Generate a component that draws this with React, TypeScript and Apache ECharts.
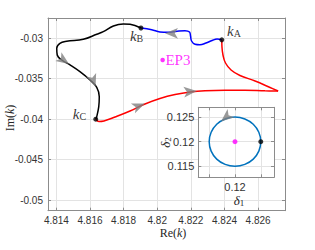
import React, { useEffect, useRef } from "react";
import * as echarts from "echarts";

// ---- tick values / labels ----
const xTicks = [4.814, 4.816, 4.818, 4.82, 4.822, 4.824, 4.826];
const xTickLabels = ["4.814", "4.816", "4.818", "4.82", "4.822", "4.824", "4.826"];
const yTicks = [-0.05, -0.045, -0.04, -0.035, -0.03];
const yTickLabels = ["-0.05", "-0.045", "-0.04", "-0.035", "-0.03"];
const inXTicks = [0.115, 0.12, 0.125];
const inXLabelTicks = [0.12];
const inXTickLabels = ["0.12"];
const inYTicks = [0.115, 0.12, 0.125];
const inYTickLabels = ["0.115", "0.12", "0.125"];

// ---- main curves (Re k, Im k) ----
const blackPath = [
  [4.81903, -0.02874], [4.81838, -0.02828], [4.81798, -0.02824], [4.81739, -0.02849],
  [4.81679, -0.02919], [4.8164, -0.02951], [4.8156, -0.03013], [4.81461, -0.03038],
  [4.81421, -0.03062], [4.81402, -0.03124], [4.81405, -0.03207], [4.81432, -0.03269],
  [4.81481, -0.0333], [4.8154, -0.03413], [4.816, -0.03516], [4.8164, -0.03606],
  [4.81655, -0.03722], [4.81652, -0.03845], [4.8164, -0.03969], [4.81634, -0.04],
];
// red: kC -> turning point (lower branch), then turning point -> kA (upper branch)
const redLower = [
  [4.81634, -0.04], [4.81653, -0.04028], [4.81683, -0.04022], [4.81749, -0.03973],
  [4.81838, -0.03899], [4.81927, -0.03812], [4.82016, -0.03744], [4.82106, -0.03695],
  [4.82195, -0.03664], [4.82284, -0.03648], [4.82403, -0.03642], [4.82522, -0.03642],
  [4.82641, -0.03649], [4.82719, -0.03652],
];
const redUpper = [
  [4.82719, -0.03652], [4.82671, -0.03608], [4.82582, -0.03528],
  [4.82492, -0.0346], [4.82439, -0.03392], [4.82406, -0.03306], [4.82391, -0.03207],
  [4.82385, -0.03108], [4.82384, -0.0302],
];
const bluePath = [
  [4.82384, -0.0302], [4.82356, -0.03009], [4.82326, -0.03028], [4.8229, -0.03059],
  [4.82254, -0.03081], [4.82225, -0.03075], [4.82204, -0.03034], [4.82198, -0.02972],
  [4.82192, -0.02923], [4.82165, -0.02907], [4.82118, -0.02914], [4.82064, -0.02927],
  [4.82016, -0.02923], [4.81967, -0.02894], [4.81903, -0.02874],
];
// arrows: x, y, rotation (deg)
const mainArrows = [
  [4.81475, -0.03318, -125],
  [4.81633, -0.03602, -160],
  [4.81927, -0.03806, -68],
  [4.82235, -0.03652, -85],
  [4.82046, -0.02939, 90],
];
const keyNames = ["A", "B", "C"];
const keyPoints = [
  [4.82384, -0.0302],
  [4.81903, -0.02874],
  [4.81634, -0.04],
];
const ep3Point = [4.82032, -0.03269];

// ---- inset (delta1, delta2) ----
const inCircle = [
  [0.125, 0.12], [0.12462, 0.12191], [0.12354, 0.12354], [0.12191, 0.12462],
  [0.12, 0.125], [0.11809, 0.12462], [0.11646, 0.12354], [0.11538, 0.12191],
  [0.115, 0.12], [0.11538, 0.11809], [0.11646, 0.11646], [0.11809, 0.11538],
  [0.12, 0.115], [0.12191, 0.11538], [0.12354, 0.11646], [0.12462, 0.11809],
  [0.125, 0.12],
];
const inCenter = [0.12, 0.12];
const inStart = [0.125, 0.12];
const inArrow = [0.1173, 0.1241, 130];

const frame = "#8c8c8c";
const gridCol = "#e3e3e3";
const tickText = "#333333";
const serif = "Liberation Serif";
const sans = "Liberation Sans";
const arrowSize = [8, 13];

function lookup(ticks: number[], labels: string[]) {
  return (v: number) => {
    for (let i = 0; i < ticks.length; i++) {
      if (Math.abs(ticks[i] - v) < 1e-9) return labels[i];
    }
    return "";
  };
}

function valAxis(o: any) {
  const {
    gridIndex, position, min, max, ticks, labelTicks, labels, showLabel, split, fontSize, margin, z,
  } = o;
  return {
    type: "value",
    gridIndex,
    position,
    min,
    max,
    z,
    axisLine: { show: true, onZero: false, lineStyle: { color: frame, width: 1 } },
    axisTick: { show: true, inside: true, length: 3, customValues: ticks, lineStyle: { color: frame } },
    axisLabel: showLabel
      ? {
          show: true,
          customValues: labelTicks,
          formatter: lookup(labelTicks, labels),
          color: tickText,
          fontSize,
          fontFamily: sans,
          margin,
        }
      : { show: false },
    splitLine: split ? { show: true, lineStyle: { color: gridCol, width: 1 } } : { show: false },
  };
}

const kRich = {
  k: { fontFamily: serif, fontStyle: "italic", fontSize: 15, lineHeight: 16, color: "#000" },
  s: { fontFamily: serif, fontSize: 10, lineHeight: 9, verticalAlign: "bottom", color: "#000" },
};
const keyOffsets = [
  [2.8, -9.3],
  [-13.5, 7.5],
  [-25.5, -5.5],
];

function curve(data: number[][], color: string, smooth: number) {
  return {
    type: "line", xAxisIndex: 0, yAxisIndex: 0, data, showSymbol: false, smooth,
    lineStyle: { color, width: 1.5 }, z: 2, silent: true,
  };
}

export default function App() {
  const ref = useRef<HTMLDivElement>(null);
  useEffect(() => {
    if (!ref.current) return;
    const chart = echarts.init(ref.current, undefined, { renderer: "svg" });
    const mainXMin = 4.8135, mainXMax = 4.8276, mainYMin = -0.0513, mainYMax = -0.0275;
    const inXMin = 0.11289, inXMax = 0.12756, inYMin = 0.11276, inYMax = 0.12699;
    const option: any = {
      animation: false,
      grid: [
        { left: 48, top: 18, width: 237, height: 192.7, show: false },
        {
          left: 198.3, top: 107.3, width: 75.7, height: 70, show: true,
          backgroundColor: "#ffffff", borderWidth: 0, z: 3,
        },
      ],
      xAxis: [
        valAxis({ gridIndex: 0, position: "bottom", min: mainXMin, max: mainXMax, ticks: xTicks, labelTicks: xTicks, labels: xTickLabels, showLabel: true, split: true, fontSize: 10, margin: 5, z: 0 }),
        valAxis({ gridIndex: 0, position: "top", min: mainXMin, max: mainXMax, ticks: xTicks, showLabel: false, split: false, z: 0 }),
        valAxis({ gridIndex: 1, position: "bottom", min: inXMin, max: inXMax, ticks: inXTicks, labelTicks: inXLabelTicks, labels: inXTickLabels, showLabel: true, split: true, fontSize: 11, margin: 4.5, z: 4 }),
        valAxis({ gridIndex: 1, position: "top", min: inXMin, max: inXMax, ticks: inXTicks, showLabel: false, split: false, z: 4 }),
      ],
      yAxis: [
        valAxis({ gridIndex: 0, position: "left", min: mainYMin, max: mainYMax, ticks: yTicks, labelTicks: yTicks, labels: yTickLabels, showLabel: true, split: true, fontSize: 10, margin: 5, z: 0 }),
        valAxis({ gridIndex: 0, position: "right", min: mainYMin, max: mainYMax, ticks: yTicks, showLabel: false, split: false, z: 0 }),
        valAxis({ gridIndex: 1, position: "left", min: inYMin, max: inYMax, ticks: inYTicks, labelTicks: inYTicks, labels: inYTickLabels, showLabel: true, split: true, fontSize: 11, margin: 4, z: 4 }),
        valAxis({ gridIndex: 1, position: "right", min: inYMin, max: inYMax, ticks: inYTicks, showLabel: false, split: false, z: 4 }),
      ],
      series: [
        curve(blackPath, "#000000", 0.4),
        curve(redLower, "#ff0000", 0.4),
        curve(redUpper, "#ff0000", 0.4),
        curve(bluePath, "#0000ff", 0.4),
        {
          type: "scatter", xAxisIndex: 0, yAxisIndex: 0, symbol: "arrow", symbolSize: arrowSize,
          itemStyle: { color: "#808080" }, z: 3, silent: true,
          data: mainArrows.map((a) => ({ value: [a[0], a[1]], symbolRotate: a[2] })),
        },
        {
          type: "scatter", xAxisIndex: 0, yAxisIndex: 0, symbol: "circle", symbolSize: 5,
          itemStyle: { color: "#000000" }, z: 4, silent: true,
          data: keyPoints.map((p, i) => ({
            value: p,
            label: {
              show: true, position: "right", distance: 0, offset: keyOffsets[i],
              formatter: "{k|k}{s|" + keyNames[i] + "}", rich: kRich,
            },
          })),
        },
        {
          type: "scatter", xAxisIndex: 0, yAxisIndex: 0, symbol: "circle", symbolSize: 4.5,
          itemStyle: { color: "#ff00ff" }, z: 4, silent: true,
          data: [{
            value: ep3Point,
            label: {
              show: true, position: "right", distance: 0.5, formatter: "EP3",
              color: "#ff00ff", fontFamily: serif, fontSize: 15,
            },
          }],
        },
        {
          type: "line", xAxisIndex: 2, yAxisIndex: 2, data: inCircle, showSymbol: false, smooth: 0.5,
          lineStyle: { color: "#0072BD", width: 1.5 }, z: 5, silent: true,
        },
        {
          type: "scatter", xAxisIndex: 2, yAxisIndex: 2, symbol: "circle", symbolSize: 5,
          z: 6, silent: true,
          data: [
            { value: inCenter, itemStyle: { color: "#ff00ff" } },
            { value: inStart, itemStyle: { color: "#000000" } },
          ],
        },
        {
          type: "scatter", xAxisIndex: 2, yAxisIndex: 2, symbol: "arrow", symbolSize: arrowSize,
          itemStyle: { color: "#808080" }, z: 6, silent: true,
          data: [{ value: [inArrow[0], inArrow[1]], symbolRotate: inArrow[2] }],
        },
      ],
      graphic: [
        {
          type: "text", x: 173, y: 232.5, z: 10, silent: true,
          style: {
            text: "Re({i|k})", fontFamily: serif, fontSize: 12, fill: "#262626",
            align: "center", verticalAlign: "middle",
            rich: { i: { fontFamily: serif, fontSize: 12, fontStyle: "italic", fill: "#262626" } },
          },
        },
        {
          type: "text", x: 10, y: 118, rotation: Math.PI / 2, z: 10, silent: true,
          style: {
            text: "Im({i|k})", fontFamily: serif, fontSize: 12, fill: "#262626",
            align: "center", verticalAlign: "middle",
            rich: { i: { fontFamily: serif, fontSize: 12, fontStyle: "italic", fill: "#262626" } },
          },
        },
        {
          type: "text", x: 165, y: 142.5, rotation: Math.PI / 2, z: 10, silent: true,
          style: {
            text: "{d|δ}{s|2}", align: "center", verticalAlign: "middle",
            rich: {
              d: { fontFamily: serif, fontSize: 13, fontStyle: "italic", lineHeight: 14, fill: "#262626" },
              s: { fontFamily: serif, fontSize: 9, lineHeight: 8, verticalAlign: "bottom", fill: "#262626" },
            },
          },
        },
        {
          type: "text", x: 239, y: 200, z: 10, silent: true,
          style: {
            text: "{d|δ}{s|1}", align: "center", verticalAlign: "middle",
            rich: {
              d: { fontFamily: serif, fontSize: 13, fontStyle: "italic", lineHeight: 14, fill: "#262626" },
              s: { fontFamily: serif, fontSize: 9, lineHeight: 8, verticalAlign: "bottom", fill: "#262626" },
            },
          },
        },
      ],
    };
    chart.setOption(option);
    return () => chart.dispose();
  }, []);
  return (
    <div
      ref={ref}
      style={{ position: "absolute", left: 0, top: 0, width: 315, height: 250, background: "#fff" }}
    />
  );
}
